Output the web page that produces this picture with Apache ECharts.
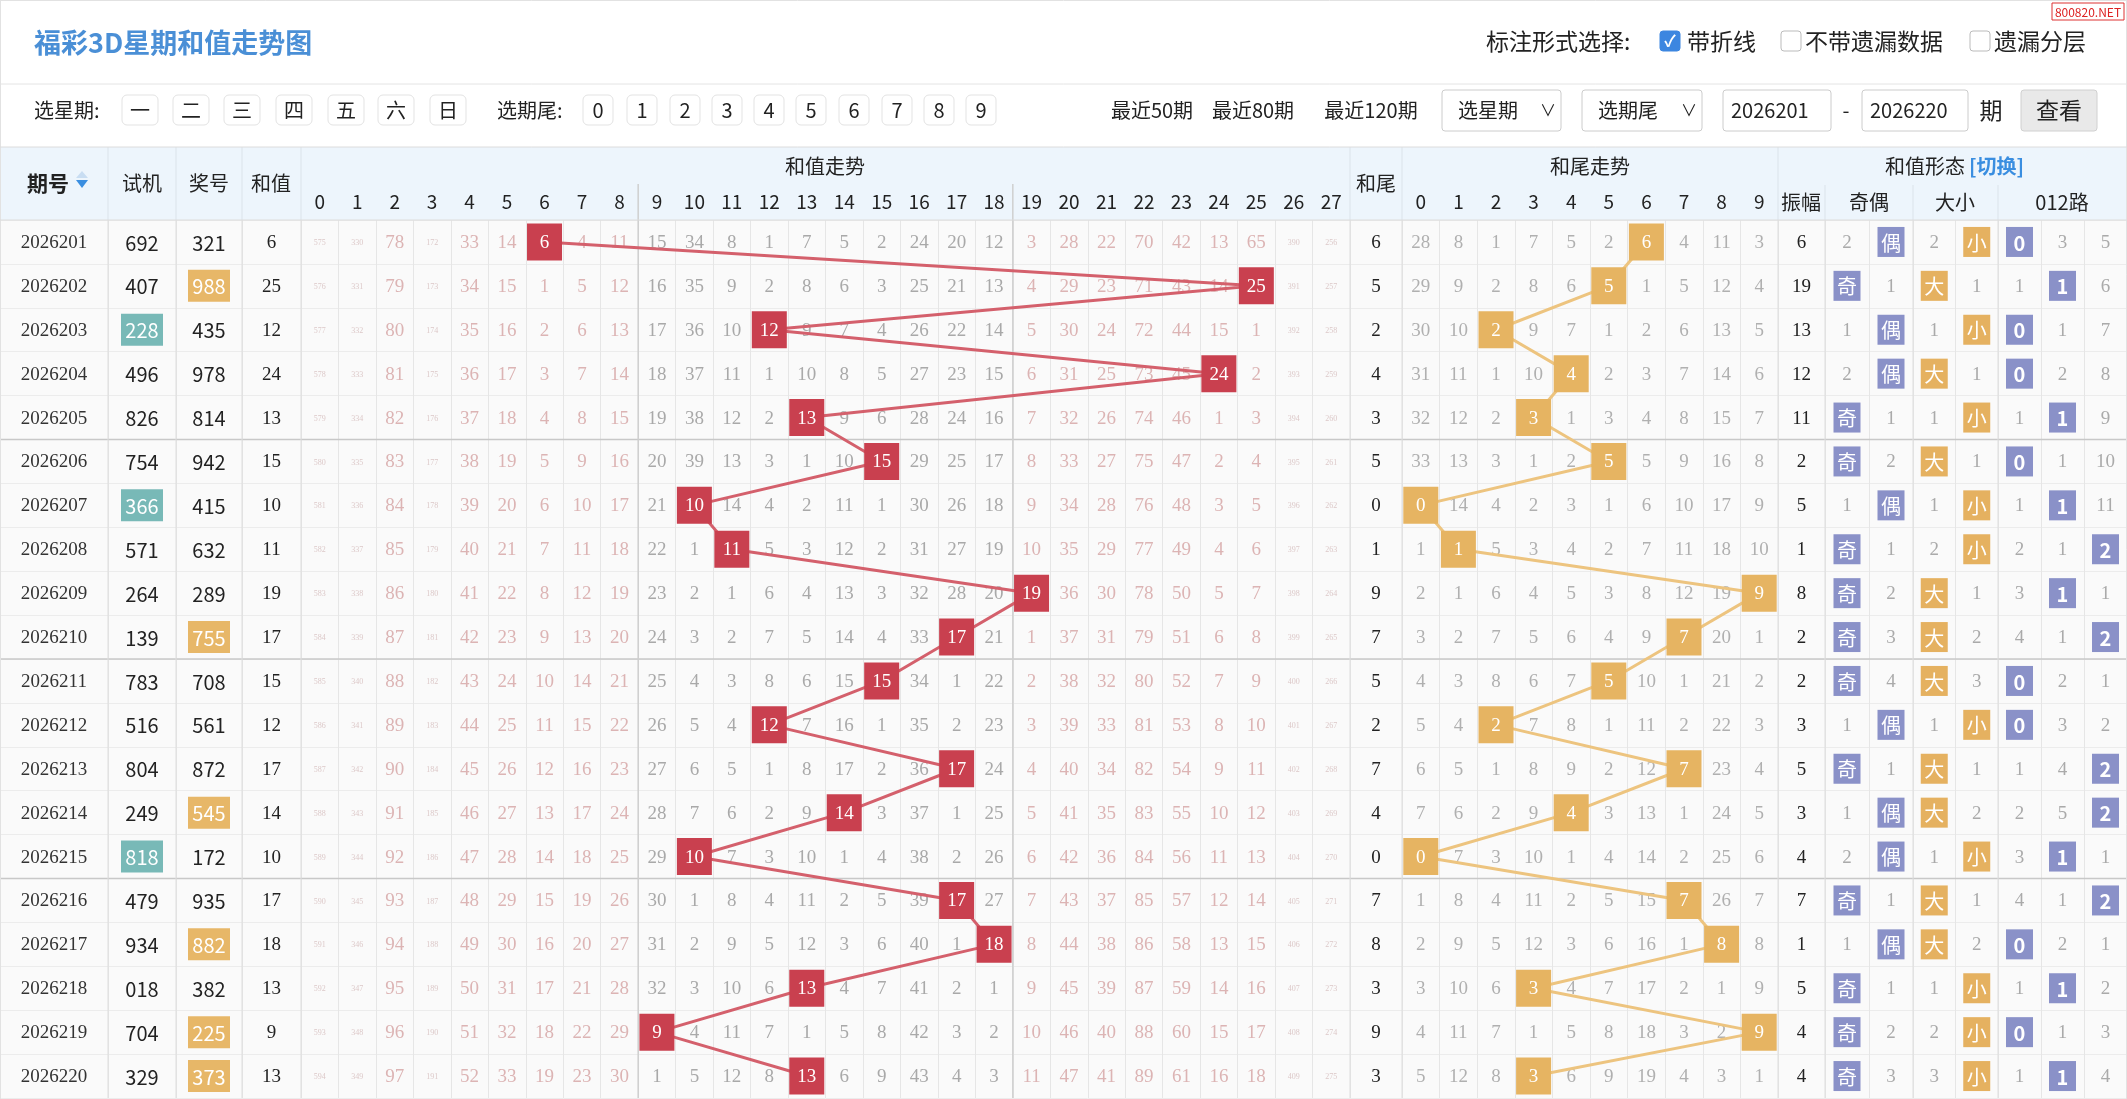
<!DOCTYPE html>
<html><head><meta charset="utf-8">
<script src="https://cdn.jsdelivr.net/npm/echarts@6/dist/echarts.min.js"></script>
<style>html,body{margin:0;padding:0;background:#fff}#c{width:2127px;height:1099px}</style>
</head><body><div id="c"></div>
<script>
// ---------- DATA ----------
const periods = ['2026201','2026202','2026203','2026204','2026205','2026206','2026207','2026208','2026209','2026210','2026211','2026212','2026213','2026214','2026215','2026216','2026217','2026218','2026219','2026220'];
const trialNums = ['692','407','228','496','826','754','366','571','264','139','783','516','804','249','818','479','934','018','704','329'];
const trialMarked = ['228','366','818'];
const winNums = ['321','988','435','978','814','942','415','632','289','755','708','561','872','545','172','935','882','382','225','373'];
const winMarked = ['988','755','545','882','225','373'];
const sums = [6,25,12,24,13,15,10,11,19,17,15,12,17,14,10,17,18,13,9,13];
const tails = [6,5,2,4,3,5,0,1,9,7,5,2,7,4,0,7,8,3,9,3];
const amplitudes = [6,19,13,12,11,2,5,1,8,2,2,3,5,3,4,7,1,5,4,4];
const sumCats = ['0','1','2','3','4','5','6','7','8','9','10','11','12','13','14','15','16','17','18','19','20','21','22','23','24','25','26','27'];
const tailCats = ['0','1','2','3','4','5','6','7','8','9'];
// misses shown in the first row (2026201); 0 = hit
const sumMissFirst = [575,330,78,172,33,14,0,4,11,15,34,8,1,7,5,2,24,20,12,3,28,22,70,42,13,65,390,256];
const tailMissFirst = [28,8,1,7,5,2,0,4,11,3];
const oddMiss  = [2,0,1,2,0,0,1,0,0,0,0,1,0,1,2,0,1,0,0,0];
const evenMiss = [0,1,0,0,1,2,0,1,2,3,4,0,1,0,0,1,0,1,2,3];
const bigMiss  = [2,0,1,0,1,0,1,2,0,0,0,1,0,0,1,0,0,1,2,3];
const smallMiss= [0,1,0,1,0,1,0,0,1,2,3,0,1,2,0,1,2,0,0,0];
const r0Miss = [0,1,0,0,1,0,1,2,3,4,0,0,1,2,3,4,0,1,0,1];
const r1Miss = [3,0,1,2,0,1,0,1,0,1,2,3,4,5,0,1,2,0,1,0];
const r2Miss = [5,6,7,8,9,10,11,0,1,0,1,2,0,0,1,0,1,2,3,4];

// each period's miss counts carry on from the row above; a hit resets to 0
function missTable(first, hits){
  const t=[first.slice()];
  for(let r=1;r<hits.length;r++) t.push(t[r-1].map((v,c)=>c===hits[r]?0:v+1));
  return t;
}
const sumMiss = missTable(sumMissFirst, sums);
const tailMiss = missTable(tailMissFirst, tails);

// ---------- LAYOUT ----------
const TOP=220, H=878;
const SERIF='"Liberation Serif","DejaVu Serif",serif';
const SANS='"Noto Sans CJK SC","Noto Sans",sans-serif';
const gridDefs=[
 {id:'period',left:0,w:108,cats:['a']},
 {id:'trial',left:108,w:68,cats:['a']},
 {id:'win',left:176,w:66,cats:['a']},
 {id:'sum',left:242,w:59,cats:['a']},
 {id:'sumTrend',left:301,w:1049,cats:sumCats,labels:true},
 {id:'tail',left:1350,w:52,cats:['a']},
 {id:'tailTrend',left:1402,w:376,cats:tailCats,labels:true},
 {id:'amp',left:1778,w:47,cats:['a']},
 {id:'oe',left:1825,w:88,cats:['a','b']},
 {id:'bs',left:1913,w:85,cats:['a','b']},
 {id:'r012',left:1998,w:129,cats:['a','b','c']},
 {id:'bg',left:0,w:2127,cats:['a']}
];
const gi={}; gridDefs.forEach((g,i)=>gi[g.id]=i);

const grid=[],xAxis=[],yAxis=[],series=[];
gridDefs.forEach((g,i)=>{
  grid.push({left:g.left,top:TOP,width:g.w,height:H,show:g.id!=='bg',backgroundColor:'#fafafa',borderWidth:0});
  xAxis.push({type:'category',gridIndex:i,data:g.cats,position:'top',
    axisLine:{show:false},axisTick:{show:false},
    axisLabel:{show:!!g.labels,fontSize:19,color:'#222',margin:9,fontFamily:SANS},
    splitLine:{show:g.id!=='bg',lineStyle:{color:'#e6e6e6'}}});
  yAxis.push({type:'category',gridIndex:i,data:periods,inverse:true,
    axisLine:{show:false},axisTick:{show:false},axisLabel:{show:false},
    splitLine:{show:g.id!=='bg',lineStyle:{color:'#ececec'}}});
});

function cellSeries(gid, recs, z){
  series.push({type:'custom',xAxisIndex:gi[gid],yAxisIndex:gi[gid],z:z,silent:true,
    data:recs.map(r=>[r.x,r.y]),
    renderItem:function(params,api){
      const r=recs[params.dataIndex];
      const p=api.coord([api.value(0),api.value(1)]);
      const ch=[];
      if(r.box){
        ch.push({type:'rect',shape:{x:p[0]-r.bw/2,y:p[1]-r.bh/2,width:r.bw,height:r.bh},style:{fill:r.box}});
      }
      ch.push({type:'text',style:{text:r.t,x:p[0],y:p[1]+1,align:'center',verticalAlign:'middle',
        fill:r.color,font:(r.bold?'bold ':'')+r.size+'px '+r.font}});
      return {type:'group',children:ch};
    }});
}
const pRec=[],tRec=[],wRec=[],sRec=[],stMiss=[],stHit=[],taRec=[],ttMiss=[],ttHit=[],aRec=[],oeRec=[],bsRec=[],rRec=[];
const SUMHIT='#c9404f',TAILHIT='#e6b462',PURPLE='#8a91c8',ORANGE='#e5b160';
for(let r=0;r<periods.length;r++){
  pRec.push({x:0,y:r,t:periods[r],color:'#333',size:19,font:SERIF});
  const tm=trialMarked.includes(trialNums[r]);
  tRec.push({x:0,y:r,t:trialNums[r],color:tm?'#fff':'#222',size:20,font:SANS,box:tm?'#78b9b7':null,bw:42,bh:32});
  const wm=winMarked.includes(winNums[r]);
  wRec.push({x:0,y:r,t:winNums[r],color:wm?'#fff':'#222',size:20,font:SANS,box:wm?'#e7b768':null,bw:42,bh:32});
  sRec.push({x:0,y:r,t:String(sums[r]),color:'#222',size:19,font:SERIF});
  for(let c=0;c<28;c++){
    const v=sumMiss[r][c];
    if(c===sums[r]) stHit.push({x:c,y:r,t:String(c),color:'#fff',size:19,font:SERIF,box:SUMHIT,bw:35,bh:37});
    else {
      const edge=(c<=8||c>=19);
      stMiss.push({x:c,y:r,t:String(v),color:v>=100?'#dcc8c8':(edge?'#dcb4b4':'#a9a9a9'),size:v>=100?8:19,font:SERIF});
    }
  }
  taRec.push({x:0,y:r,t:String(tails[r]),color:'#222',size:19,font:SERIF});
  for(let c=0;c<10;c++){
    if(c===tails[r]) ttHit.push({x:c,y:r,t:String(c),color:'#fff',size:19,font:SERIF,box:TAILHIT,bw:35,bh:37});
    else ttMiss.push({x:c,y:r,t:String(tailMiss[r][c]),color:'#b0b0b0',size:19,font:SERIF});
  }
  aRec.push({x:0,y:r,t:String(amplitudes[r]),color:'#222',size:19,font:SERIF});
  const pairs=[[oeRec,oddMiss,evenMiss,['奇','偶'],PURPLE],[bsRec,bigMiss,smallMiss,['大','小'],ORANGE]];
  pairs.forEach(([arr,a,b,lab,col])=>{
    [a,b].forEach((m,k)=>{
      if(m[r]===0) arr.push({x:k,y:r,t:lab[k],color:'#fff',size:20,font:SANS,box:col,bw:27,bh:30});
      else arr.push({x:k,y:r,t:String(m[r]),color:'#aaa',size:19,font:SERIF});
    });
  });
  [r0Miss,r1Miss,r2Miss].forEach((m,k)=>{
    if(m[r]===0) rRec.push({x:k,y:r,t:String(k),color:'#fff',size:20,font:SANS,bold:true,box:PURPLE,bw:27,bh:30});
    else rRec.push({x:k,y:r,t:String(m[r]),color:'#aaa',size:19,font:SERIF});
  });
}
series.push({type:'custom',xAxisIndex:gi.bg,yAxisIndex:gi.bg,z:5,silent:true,data:[[0,4],[0,9],[0,14]],
  renderItem:function(params,api){
    const p=api.coord([0,api.value(1)]);const s=api.size([1,1]);const cs=params.coordSys;
    return {type:'line',shape:{x1:cs.x,y1:p[1]+s[1]/2,x2:cs.x+cs.width,y2:p[1]+s[1]/2},style:{stroke:'#c8c8c8',lineWidth:1.5}};
  }});
series.push({type:'custom',xAxisIndex:gi.sumTrend,yAxisIndex:gi.sumTrend,z:5,silent:true,data:[[8,0],[18,0]],
  renderItem:function(params,api){
    const p=api.coord([api.value(0),0]);const s=api.size([1,1]);const cs=params.coordSys;const x=p[0]+s[0]/2;
    return {type:'line',shape:{x1:x,y1:cs.y-36,x2:x,y2:cs.y+cs.height},style:{stroke:'#cfcfcf',lineWidth:1.5}};
  }});
cellSeries('period',pRec,3);cellSeries('trial',tRec,3);cellSeries('win',wRec,3);cellSeries('sum',sRec,3);
cellSeries('sumTrend',stMiss,2);cellSeries('sumTrend',stHit,12);
cellSeries('tail',taRec,3);cellSeries('tailTrend',ttMiss,2);cellSeries('tailTrend',ttHit,12);
cellSeries('amp',aRec,3);cellSeries('oe',oeRec,3);cellSeries('bs',bsRec,3);cellSeries('r012',rRec,3);
series.push({type:'line',xAxisIndex:gi.sumTrend,yAxisIndex:gi.sumTrend,z:8,symbol:'none',silent:true,
  data:sums.map((s,i)=>[s,i]),lineStyle:{color:'#d4606c',width:3}});
series.push({type:'line',xAxisIndex:gi.tailTrend,yAxisIndex:gi.tailTrend,z:8,symbol:'none',silent:true,
  data:tails.map((s,i)=>[s,i]),lineStyle:{color:'#edc47f',width:3}});

// ---------- DECORATION (page chrome, outside the data area) ----------
const G=[];
G.push({type:'rect',z:-100,silent:true,shape:{x:0,y:147,width:2127,height:73},style:{fill:'#edf5fc'}});
function txt(x,y,t,o){G.push({type:'text',x:x,y:y,z:50,silent:true,style:Object.assign({text:t,font:'20px '+SANS,fill:'#222',verticalAlign:'middle'},o||{})});}
function rect(x,y,w,h,o){G.push({type:'rect',z:40,silent:true,shape:{x:x,y:y,width:w,height:h,r:(o&&o.r)||0},style:Object.assign({fill:'#fff',stroke:'#ddd',lineWidth:1},o||{})});}
function line(x1,y1,x2,y2,c,w){G.push({type:'line',z:45,silent:true,shape:{x1,y1,x2,y2},style:{stroke:c||'#dcdcdc',lineWidth:w||1}});}
line(0,84,2127,84,'#e4e4e4');
line(0.5,0,0.5,1099,'#e2e2e2');line(2126.5,0,2126.5,1099,'#e2e2e2');line(0,0.5,2127,0.5,'#e2e2e2');
txt(34,43,'福彩3D星期和值走势图',{font:'bold 27px '+SANS,fill:'#4a8fd6'});
txt(1486,41,'标注形式选择:',{font:'23px '+SANS});
rect(1660,31,20,20,{fill:'#3c86e0',stroke:'#3c86e0',r:3});
txt(1670,41,'✓',{font:'bold 16px '+SANS,fill:'#fff',align:'center'});
txt(1687,41,'带折线',{font:'23px '+SANS});
rect(1781,31,20,20,{fill:'#fff',stroke:'#bbb',r:3});
txt(1805,41,'不带遗漏数据',{font:'23px '+SANS});
rect(1970,31,20,20,{fill:'#fff',stroke:'#bbb',r:3});
txt(1994,41,'遗漏分层',{font:'23px '+SANS});
rect(2052,3,72,17,{fill:'#fff',stroke:'#d33'});
txt(2088,12,'800820.NET',{font:'12px '+SANS,fill:'#d22',align:'center'});
const CY=110;
txt(34,CY,'选星期:',{font:'20px '+SANS});
['一','二','三','四','五','六','日'].forEach((d,i)=>{const cx=[140,191,242,294,346,396,448][i];rect(cx-18,CY-15,36,30,{r:5,stroke:'#e3e3e3'});txt(cx,CY,d,{align:'center'});});
txt(497,CY,'选期尾:',{font:'20px '+SANS});
[598,642,685,727,769,811,854,897,939,981].forEach((cx,i)=>{rect(cx-15,CY-15,30,30,{r:5,stroke:'#e3e3e3'});txt(cx,CY,String(i),{align:'center'});});
txt(1152,CY,'最近50期',{align:'center'});txt(1253,CY,'最近80期',{align:'center'});txt(1371,CY,'最近120期',{align:'center'});
rect(1442,90,119,41,{r:3,stroke:'#ccc'});txt(1458,CY,'选星期');txt(1540,CY,'∨',{font:'16px '+SANS});
rect(1582,90,120,41,{r:3,stroke:'#ccc'});txt(1598,CY,'选期尾');txt(1681,CY,'∨',{font:'16px '+SANS});
rect(1723,90,108,41,{r:3,stroke:'#ccc'});txt(1731,CY,'2026201');
txt(1846,CY,'-',{align:'center'});
rect(1862,90,106,41,{r:3,stroke:'#ccc'});txt(1870,CY,'2026220');
txt(1991,CY,'期',{font:'23px '+SANS,align:'center'});
rect(2021,90,76,41,{r:3,fill:'#e9e9e9',stroke:'#d0d0d0'});txt(2059,CY,'查看',{font:'23px '+SANS,align:'center'});
txt(27,183,'期号',{font:'bold 21px '+SANS});
G.push({type:'polygon',z:50,silent:true,shape:{points:[[76,180],[88,180],[82,188]]},style:{fill:'#3a8ee0'}});
G.push({type:'polygon',z:50,silent:true,shape:{points:[[76,178],[88,178],[82,171]]},style:{fill:'#c8ddf2'}});
[108,176,242,301,1350,1402,1778].forEach(x=>line(x,147,x,220,'#dbe3ea'));
[1825,1913,1998].forEach(x=>line(x,185,x,220,'#dbe3ea'));
txt(142,183,'试机',{align:'center'});txt(209,183,'奖号',{align:'center'});txt(271,183,'和值',{align:'center'});
txt(825,166,'和值走势',{align:'center'});
txt(1376,183,'和尾',{align:'center'});
txt(1590,166,'和尾走势',{align:'center'});
txt(1925,166,'和值形态',{align:'center'});
txt(1969,166,'[切换]',{font:'bold 20px '+SANS,fill:'#3a8ee0'});
txt(1801,202,'振幅',{align:'center'});txt(1869,202,'奇偶',{align:'center'});txt(1955,202,'大小',{align:'center'});txt(2062,202,'012路',{align:'center'});
line(0,147,2127,147,'#dcdcdc');
line(0,220,2127,220,'#dcdcdc');
[108,176,242,301,1350,1402,1778,1825,1913,1998].forEach(x=>line(x,220,x,1098,'#dedede'));

const chart=echarts.init(document.getElementById('c'));
chart.setOption({animation:false,backgroundColor:'#fff',grid,xAxis,yAxis,series,graphic:{elements:G}});
</script></body></html>
